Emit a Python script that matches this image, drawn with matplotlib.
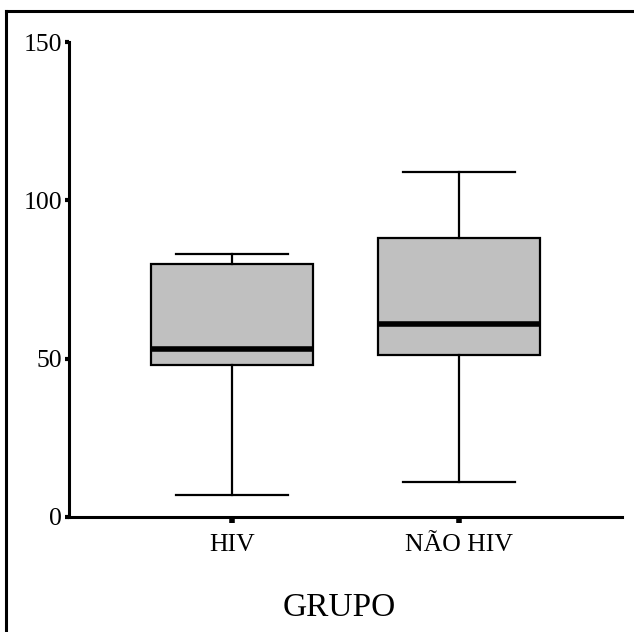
import matplotlib
matplotlib.use("Agg")
import matplotlib.pyplot as plt
from matplotlib.lines import Line2D

groups = ["HIV", "NÃO HIV"]
whislo = [7, 11]
q1 = [48, 51]
med = [53, 61]
q3 = [80, 88]
whishi = [83, 109]
yticks = [0, 50, 100, 150]
xlabel = "GRUPO"

plt.rcParams['font.family'] = ['Liberation Serif', 'DejaVu Serif']

fig = plt.figure(figsize=(6.34, 6.32), dpi=100)
ax = fig.add_axes([0.1088, 0.182, 0.981 - 0.1088, 0.9335 - 0.182])

stats = []
for i, g in enumerate(groups):
    stats.append(dict(label=g, whislo=whislo[i], q1=q1[i], med=med[i],
                      q3=q3[i], whishi=whishi[i], fliers=[]))

ax.bxp(stats, positions=[1, 2], widths=0.71, patch_artist=True,
       showfliers=False,
       boxprops=dict(facecolor='#c0c0c0', edgecolor='black', linewidth=1.6),
       medianprops=dict(color='black', linewidth=4.0, solid_capstyle='butt'),
       whiskerprops=dict(color='black', linewidth=1.6),
       capprops=dict(color='black', linewidth=1.6),
       capwidths=0.49)

ax.set_xlim(0.282, 2.718)
ax.set_ylim(0, 150)
ax.set_yticks(yticks)
ax.set_yticklabels([str(t) for t in yticks])
ax.set_xticks([1, 2])
ax.set_xticklabels(groups)

for s in ['top', 'right']:
    ax.spines[s].set_visible(False)
for s in ['left', 'bottom']:
    ax.spines[s].set_linewidth(2.2)
    ax.spines[s].set_capstyle('projecting')

ax.tick_params(axis='y', direction='out', length=3, width=3, pad=2,
               labelsize=18.5)
ax.tick_params(axis='x', direction='out', length=4, width=4, pad=8,
               labelsize=18.5)

fig.text(0.535, 1 - 608 / 632, xlabel, ha='center', va='center', fontsize=24)

# outer frame (top and left edges visible)
fig.add_artist(Line2D([6 / 634, 1.0], [1 - 11 / 632, 1 - 11 / 632],
                      transform=fig.transFigure, color='black', linewidth=2.2))
fig.add_artist(Line2D([6 / 634, 6 / 634], [0.0, 1 - 11 / 632],
                      transform=fig.transFigure, color='black', linewidth=2.2))

fig.savefig("out.png", dpi=100)
